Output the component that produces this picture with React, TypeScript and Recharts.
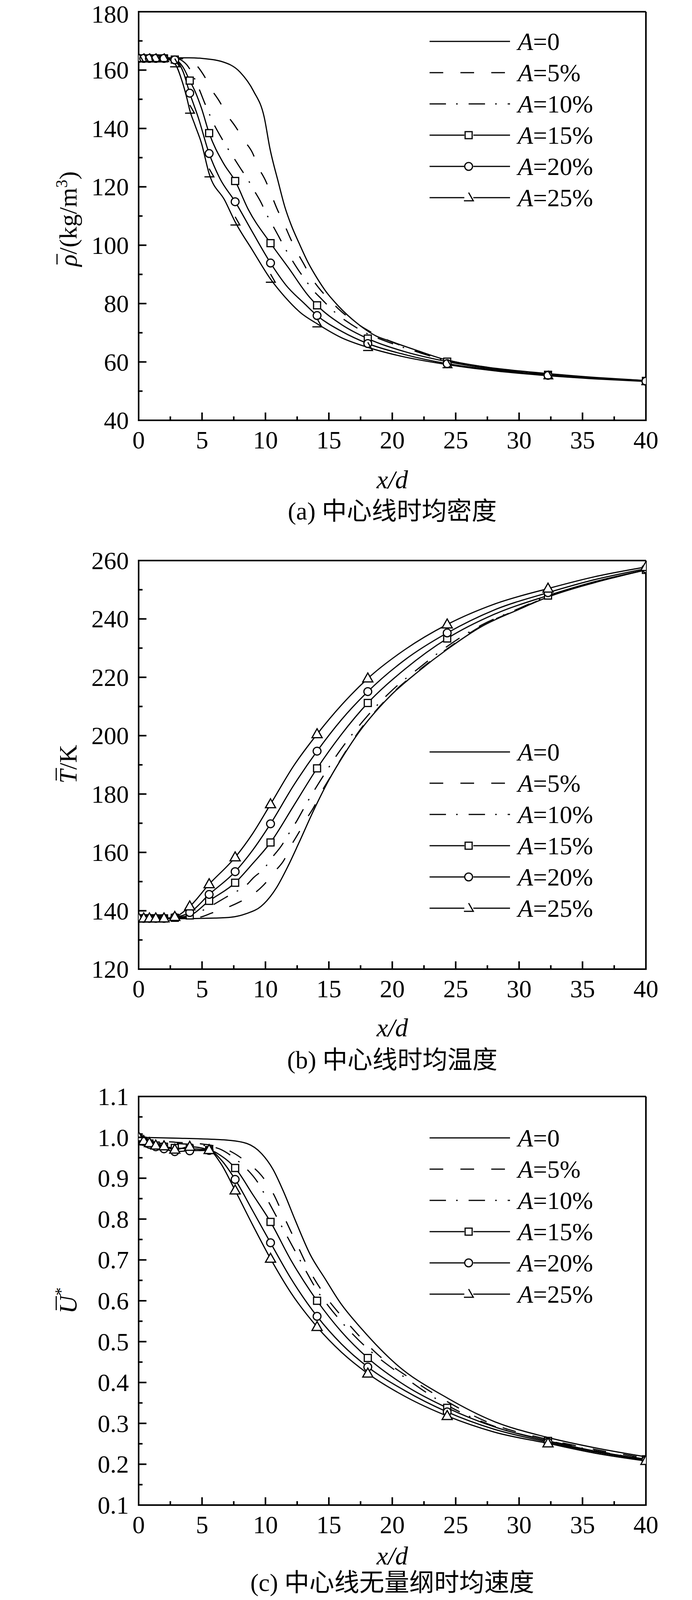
import React from "react";
import { LineChart, Line, XAxis, YAxis, ReferenceLine } from "recharts";

// ---- data ----
// shared sample points where the A=15/20/25% runs carry markers
const markX = [0, 0.4, 0.85, 1.35, 2, 2.85, 4.03, 5.56, 7.61, 10.4, 14.07, 18.07, 24.33, 32.28, 40];
const xTicks = [0, 2.5, 5, 7.5, 10, 12.5, 15, 17.5, 20, 22.5, 25, 27.5, 30, 32.5, 35, 37.5, 40];
const xMajor = [0, 5, 10, 15, 20, 25, 30, 35, 40];
const legendLabels = ["0", "5%", "10%", "15%", "20%", "25%"];

// (a) density
const rhoMajor = [40, 60, 80, 100, 120, 140, 160, 180];
const rhoMinor = [50, 70, 90, 110, 130, 150, 170];
const rho0 = [[0, 164], [2, 164.2], [4, 164.2], [5, 164], [6.5, 163], [8, 159.3], [9.06, 152.8], [9.9, 143.9], [10.35, 133.2], [11.02, 121.5], [11.53, 113.1], [12.04, 106.8], [12.66, 100.6], [13.38, 93.9], [14.1, 88.5], [14.71, 84.5], [15.74, 79.2], [17.18, 73.4], [18.72, 68.9], [19.85, 67.1], [21.9, 64], [24, 61], [27, 58.5], [32.3, 56], [36, 54.7], [40, 53.6]];
const rho5 = [[0, 164], [3, 164], [4, 163.5], [4.44, 162.2], [5.11, 158.4], [5.77, 153.2], [6.34, 149.5], [7, 144.5], [7.61, 140.8], [8.34, 135.8], [8.96, 131.8], [9.47, 126.5], [10, 122.2], [10.5, 116.9], [10.9, 112.6], [11.47, 107.3], [11.9, 103], [12.45, 98], [12.98, 93.9], [13.6, 89], [14.2, 85.4], [15.07, 81.2], [15.75, 78.2], [17, 73.8], [18, 71], [20, 66.8], [22, 63.7], [24.4, 60.6], [28, 57.8], [32.3, 55.9], [36, 54.6], [40, 53.6]];
const rho10 = [[0, 164], [3, 164], [3.5, 163], [3.8, 161.8], [4.75, 153.7], [5.2, 148.8], [5.57, 145], [5.92, 141.6], [6.5, 137], [6.96, 133.6], [7.42, 130.5], [8.14, 125.6], [8.6, 122.6], [9.06, 119.1], [9.68, 114.4], [10.04, 111], [10.48, 107.5], [11.07, 102.8], [11.48, 99.4], [11.93, 96.1], [12.61, 91.4], [13.12, 88.3], [13.63, 85.2], [14.46, 81.4], [15.07, 78.7], [15.75, 76], [16.83, 72.7], [17.59, 70.7], [20, 66.3], [22, 63.4], [24.4, 60.3], [28, 57.6], [32.3, 55.8], [36, 54.5], [40, 53.5]];
const rho15 = [[0, 164], [0.4, 164], [0.85, 164], [1.35, 164], [2, 164], [2.85, 163.6], [3.5, 161], [4.03, 156.4], [4.44, 152.8], [4.95, 147], [5.56, 138.4], [6.7, 128], [7.61, 122], [8.65, 112.2], [10.4, 100.7], [11.84, 92.1], [13.38, 82.7], [14.07, 79.4], [16, 72.8], [18.07, 68], [21, 63.5], [24.33, 60.1], [28, 57.5], [32.28, 55.6], [36, 54.4], [40, 53.5]];
const rho20 = [[0, 164], [0.4, 164], [0.85, 164], [1.35, 164], [2, 164], [2.85, 163.5], [3.5, 159.5], [4.03, 152.1], [4.69, 143.9], [5.56, 131.4], [6.39, 123], [7.61, 114.9], [8.96, 104.6], [10.4, 93.9], [11.62, 86.3], [13.07, 80], [14.07, 75.9], [16, 70.5], [18.07, 66.3], [21, 62.5], [24.33, 59.4], [28, 57.2], [32.28, 55.4], [36, 54.3], [40, 53.4]];
const rho25 = [[0, 164], [0.4, 164], [0.85, 164], [1.35, 164], [2, 164], [2.85, 162.2], [3.41, 156.4], [3.82, 150.1], [4.03, 146.3], [4.44, 141.2], [4.95, 135], [5.56, 124.5], [6.8, 115.3], [7.61, 108], [8.96, 98.4], [10.4, 88.4], [11.53, 82.3], [12.76, 76.9], [14.07, 73.1], [16, 68.3], [18.07, 65], [20.87, 61.8], [24.33, 59.1], [28, 57], [32.28, 55.3], [36, 54.2], [40, 53.3]];

// (b) temperature
const tMajor = [120, 140, 160, 180, 200, 220, 240, 260];
const tMinor = [130, 150, 170, 190, 210, 230, 250];
const t0 = [[0, 137.4], [3, 137.3], [6, 137.5], [7.3, 137.8], [8.47, 139], [9.65, 141.5], [10.84, 147.7], [11.79, 155.4], [12.62, 163.1], [13.8, 174.4], [14.99, 184.7], [16.18, 193.4], [17.36, 201.1], [18.9, 209.3], [20, 214.3], [22, 221.8], [24.4, 229.8], [27, 237.3], [30, 243.3], [32.28, 247.5], [36, 252.5], [40, 256.8]];
const t5 = [[0, 137.4], [3, 137.4], [4.79, 137.8], [5.74, 139.2], [6.93, 141], [8, 143.1], [9, 145.6], [9.83, 148.7], [10.72, 153.4], [11.44, 157.2], [12.02, 162.3], [12.62, 166.7], [13.21, 171.3], [13.8, 175.4], [14.4, 180.6], [14.92, 184.4], [16.18, 193.6], [17.36, 201.4], [18.9, 209.5], [20, 214.5], [22, 222], [24.4, 230], [27, 237.5], [30, 243.4], [32.28, 247.6], [36, 252.5], [40, 256.8]];
const t10 = [[0, 137.4], [3, 137.4], [4, 138], [4.9, 139.8], [5.86, 142], [6.87, 144.6], [7.61, 146.4], [8.35, 148.2], [9.1, 151.5], [9.9, 154.5], [10.48, 158], [11.31, 162.6], [11.71, 165.5], [12.5, 171], [13.27, 177], [14.07, 182.8], [14.87, 188.3], [15.7, 193.8], [16.58, 199], [17.5, 204], [18.07, 206.9], [20, 215.6], [22, 222.8], [24.4, 230.8], [27, 237.8], [30, 243.6], [32.28, 247.8], [36, 252.6], [40, 256.8]];
const t15 = [[0, 137.4], [0.4, 137.4], [0.85, 137.4], [1.35, 137.4], [2, 137.4], [2.85, 137.6], [4.03, 138.4], [5.56, 143.4], [7.61, 149.6], [9, 156.2], [10.4, 163.4], [12.2, 175.8], [14.07, 188.8], [16, 200.5], [18.07, 211.2], [21, 222.8], [24.33, 233.3], [28, 241.5], [32.28, 248], [36, 252.8], [40, 256.8]];
const t20 = [[0, 137.4], [0.4, 137.4], [0.85, 137.4], [1.35, 137.4], [2, 137.4], [2.85, 137.8], [4.03, 139.4], [5.56, 145.6], [7.61, 153.4], [9, 160.8], [10.4, 169.8], [12.2, 182.8], [14.07, 194.7], [16, 205.5], [18.07, 215.1], [21, 226], [24.33, 235.2], [28, 243], [32.28, 249], [36, 253.5], [40, 257.2]];
const t25 = [[0, 137.4], [0.4, 137.4], [0.85, 137.4], [1.35, 137.4], [2, 137.4], [2.85, 137.9], [4.03, 141.5], [5.56, 149.1], [7.61, 158.3], [9, 166.5], [10.4, 176.5], [12.2, 189.5], [14.07, 200.5], [16, 210.5], [18.07, 219.6], [21, 229.5], [24.33, 238.1], [28, 245], [32.28, 250.4], [36, 254.5], [40, 257.8]];

// (c) dimensionless velocity
const uMajor = [0.1, 0.2, 0.3, 0.4, 0.5, 0.6, 0.7, 0.8, 0.9, 1.0, 1.1];
const uMinor = [0.15, 0.25, 0.35, 0.45, 0.55, 0.65, 0.75, 0.85, 0.95, 1.05];
const u0 = [[0, 1.0], [3, 0.998], [6, 0.995], [7.06, 0.993], [8.53, 0.985], [9.7, 0.96], [10.59, 0.922], [11.47, 0.864], [12.35, 0.797], [13.53, 0.713], [14.7, 0.654], [15.88, 0.596], [17.65, 0.529], [20.3, 0.445], [24.4, 0.361], [28, 0.305], [32.06, 0.267], [36, 0.24], [40, 0.218]];
const u5 = [[0, 1.0], [1, 0.993], [2.9, 0.988], [5.2, 0.983], [6.5, 0.975], [7.35, 0.964], [8.53, 0.939], [9.7, 0.906], [10.59, 0.864], [11.47, 0.805], [12.35, 0.747], [13.53, 0.671], [14.7, 0.613], [16.47, 0.546], [18.8, 0.47], [21.76, 0.403], [24.4, 0.352], [27.6, 0.302], [32.06, 0.262], [36, 0.236], [40, 0.215]];
const u10 = [[0, 1.0], [1, 0.99], [2.9, 0.985], [5.2, 0.98], [6.5, 0.97], [7.3, 0.955], [8.24, 0.931], [9.41, 0.889], [10.3, 0.839], [11.18, 0.788], [12.35, 0.721], [13.53, 0.654], [14.07, 0.625], [14.7, 0.598], [16.47, 0.532], [18.24, 0.478], [20.3, 0.428], [24.4, 0.343], [28.5, 0.288], [32.28, 0.258], [36, 0.233], [40, 0.212]];
const u15 = [[0, 1.0], [0.4, 0.99], [0.85, 0.985], [1.35, 0.98], [2, 0.977], [2.85, 0.974], [4.03, 0.972], [5.56, 0.969], [6.5, 0.955], [7.61, 0.925], [9, 0.86], [10.4, 0.793], [12, 0.7], [14.07, 0.6], [16, 0.524], [18.07, 0.46], [21, 0.393], [24.33, 0.338], [28, 0.292], [32.28, 0.257], [36, 0.232], [40, 0.212]];
const u20 = [[0, 1.0], [0.4, 0.99], [0.85, 0.983], [1.35, 0.977], [2, 0.972], [2.85, 0.965], [4.03, 0.967], [5.56, 0.968], [6.5, 0.945], [7.61, 0.897], [9, 0.82], [10.4, 0.742], [12, 0.655], [14.07, 0.562], [16, 0.494], [18.07, 0.438], [21, 0.38], [24.33, 0.328], [28, 0.286], [32.28, 0.254], [36, 0.23], [40, 0.21]];
const u25 = [[0, 1.0], [0.4, 0.991], [0.85, 0.986], [1.35, 0.98], [2, 0.978], [2.85, 0.97], [4.03, 0.977], [5.56, 0.969], [6.5, 0.935], [7.61, 0.87], [9, 0.785], [10.4, 0.703], [12, 0.62], [14.07, 0.536], [16, 0.474], [18.07, 0.422], [21, 0.366], [24.33, 0.318], [28, 0.279], [32.28, 0.251], [36, 0.227], [40, 0.208]];

// ---- layout ----
const FONT = "'Liberation Serif', 'Times New Roman', serif";
const CJK = "'Liberation Serif', 'Noto Sans CJK SC', serif";
const W = 1772;
const H = 1400;
const ML = 355;
const MR = 118;
const MT = 30;
const PH = 1046;
const MB = H - MT - PH;
const PLOT_B = MT + PH;
const CX = (ML + (W - MR)) / 2;
const AXIS = { stroke: "#000", strokeWidth: 4, strokeLinecap: "square" as const };
const DASH5 = "35 44";
const DASH10 = "42 26 4 28";

type Mark = "square" | "circle" | "tri" | "half";

const toRows = (pts: number[][]) => pts.map(([x, y]) => ({ x, y }));

function markShape(kind: Mark, cx: number, cy: number, key?: string) {
  const st = { fill: "#fff", stroke: "#000", strokeWidth: 3 };
  if (kind === "square") return <rect key={key} x={cx - 9} y={cy - 9} width={18} height={18} {...st} />;
  if (kind === "circle") return <circle key={key} cx={cx} cy={cy} r={10} {...st} />;
  if (kind === "tri")
    return <path key={key} d={`M${cx},${cy - 14}L${cx + 13},${cy + 9}L${cx - 13},${cy + 9}Z`} {...st} />;
  return <path key={key} d={`M${cx},${cy - 13}L${cx + 12},${cy + 8}L${cx - 12},${cy + 8}`} {...st} fill="none" />;
}

function Legend({ y0 }: { y0: number }) {
  const x1 = 1100;
  const x2 = 1306;
  const mid = 1200;
  const kinds: (Mark | null)[] = [null, null, null, "square", "circle", "half"];
  return (
    <g>
      {legendLabels.map((lab, i) => {
        const y = y0 + i * 80;
        const k = kinds[i];
        return (
          <g key={lab}>
            {k ? (
              <>
                <line x1={x1} x2={mid - 11} y1={y} y2={y} stroke="#000" strokeWidth={3} />
                <line x1={mid + 12} x2={x2} y1={y} y2={y} stroke="#000" strokeWidth={3} />
                {markShape(k, mid, y)}
              </>
            ) : (
              <line
                x1={x1}
                x2={x2}
                y1={y}
                y2={y}
                stroke="#000"
                strokeWidth={3}
                strokeDasharray={i === 1 ? DASH5 : i === 2 ? DASH10 : undefined}
              />
            )}
            <text x={1326} y={y + 22} fontSize={64} fontFamily={FONT}>
              <tspan fontStyle="italic">A</tspan>={lab}
            </text>
          </g>
        );
      })}
    </g>
  );
}

interface Series {
  pts: number[][];
  dash?: string;
  mark?: Mark;
}

interface PanelProps {
  top: number;
  domain: [number, number];
  yMajor: number[];
  yMinor: number[];
  fmt: (v: number) => string;
  series: Series[];
  legendY: number;
  yLabel: React.ReactNode;
  caption: string;
  xLabelDy: number;
  captionDy: number;
}

function Panel({ top, domain, yMajor, yMinor, fmt, series, legendY, yLabel, caption, xLabelDy, captionDy }: PanelProps) {
  const yTicks = [...yMajor, ...yMinor].sort((a, b) => a - b);

  const xTick = (p: any) => {
    const v = p.payload.value;
    const major = xMajor.includes(v);
    return (
      <g>
        <line x1={p.x} x2={p.x} y1={PLOT_B} y2={PLOT_B - (major ? 20 : 10)} stroke="#000" strokeWidth={4} />
        {major && (
          <text x={p.x} y={PLOT_B + 72} textAnchor="middle" fontSize={64} fontFamily={FONT}>
            {v}
          </text>
        )}
      </g>
    );
  };

  const yTick = (p: any) => {
    const v = p.payload.value;
    const major = yMajor.includes(v);
    // keep the topmost label's box on the page
    const base = Math.max(p.y + 22, 58 - top);
    return (
      <g>
        <line x1={ML} x2={ML + (major ? 20 : 10)} y1={p.y} y2={p.y} stroke="#000" strokeWidth={4} />
        {major && (
          <text x={ML - 25} y={base} textAnchor="end" fontSize={64} fontFamily={FONT}>
            {fmt(v)}
          </text>
        )}
      </g>
    );
  };

  return (
    <div style={{ position: "absolute", left: 0, top, width: W, height: H }}>
      <LineChart width={W} height={H} margin={{ top: MT, right: MR, bottom: MB - 1, left: ML - 1 }}>
        <XAxis
          type="number"
          dataKey="x"
          domain={[0, 40]}
          ticks={xTicks}
          interval={0}
          tick={xTick}
          tickLine={false}
          tickSize={0}
          tickMargin={0}
          height={1}
          axisLine={AXIS}
          allowDataOverflow
        />
        <YAxis
          type="number"
          domain={domain}
          ticks={yTicks}
          interval={0}
          tick={yTick}
          tickLine={false}
          tickSize={0}
          tickMargin={0}
          width={1}
          axisLine={AXIS}
          allowDataOverflow
        />
        <ReferenceLine y={domain[1]} stroke="#000" strokeWidth={4} />
        <ReferenceLine x={40} stroke="#000" strokeWidth={4} />
        {series.map((s, i) => (
          <Line
            key={`c${i}`}
            data={toRows(s.pts)}
            dataKey="y"
            type="monotone"
            stroke="#000"
            strokeWidth={3}
            strokeDasharray={s.dash}
            dot={false}
            activeDot={false}
            isAnimationActive={false}
          />
        ))}
        {series
          .filter((s) => s.mark)
          .map((s, i) => (
            <Line
              key={`m${i}`}
              data={toRows(s.pts.filter(([x]) => markX.includes(x)))}
              dataKey="y"
              stroke="none"
              dot={(p: any) => markShape(s.mark as Mark, p.cx, p.cy, `d${i}-${p.index}`)}
              activeDot={false}
              isAnimationActive={false}
            />
          ))}
      </LineChart>
      <svg
        width={W}
        height={H}
        style={{ position: "absolute", left: 0, top: 0, pointerEvents: "none" }}
      >
        <Legend y0={legendY} />
        <g transform={`translate(196, ${MT + PH / 2}) rotate(-90)`}>{yLabel}</g>
        <text x={CX} y={PLOT_B + xLabelDy} textAnchor="middle" fontSize={66} fontFamily={FONT} fontStyle="italic">
          x/d
        </text>
        <text x={CX} y={PLOT_B + captionDy} textAnchor="middle" fontSize={64} fontFamily={CJK}>
          {caption}
        </text>
      </svg>
    </div>
  );
}

const rhoLabel = (
  <g>
    <text x={-129} y={0} fontSize={64} fontFamily={FONT}>
      <tspan fontStyle="italic">ρ</tspan>/(kg/m
      <tspan dy={-24} fontSize={42}>3</tspan>
      <tspan dy={24}>)</tspan>
    </text>
    <line x1={-124} x2={-97} y1={-50} y2={-50} stroke="#000" strokeWidth={3} />
  </g>
);

const tLabel = (
  <g>
    <text x={-48} y={0} fontSize={64} fontFamily={FONT}>
      <tspan fontStyle="italic">T</tspan>/K
    </text>
    <line x1={-40} x2={-8} y1={-52} y2={-52} stroke="#000" strokeWidth={3} />
  </g>
);

const uLabel = (
  <g>
    <text x={-33} y={0} fontSize={64} fontFamily={FONT}>
      <tspan fontStyle="italic">U</tspan>
      <tspan dy={-26} fontSize={42}>*</tspan>
    </text>
    <line x1={-24} x2={12} y1={-52} y2={-52} stroke="#000" strokeWidth={3} />
  </g>
);

export default function App() {
  return (
    <div style={{ position: "absolute", left: 0, top: 0, width: W, height: 4180, background: "#fff" }}>
      <style>{"svg { overflow: visible; }"}</style>
      <Panel
        top={0}
        domain={[40, 180]}
        yMajor={rhoMajor}
        yMinor={rhoMinor}
        fmt={(v) => String(v)}
        series={[
          { pts: rho0 },
          { pts: rho5, dash: DASH5 },
          { pts: rho10, dash: DASH10 },
          { pts: rho15, mark: "square" },
          { pts: rho20, mark: "circle" },
          { pts: rho25, mark: "half" },
        ]}
        legendY={106}
        yLabel={rhoLabel}
        caption="(a) 中心线时均密度"
        xLabelDy={174}
        captionDy={254}
      />
      <Panel
        top={1405}
        domain={[120, 260]}
        yMajor={tMajor}
        yMinor={tMinor}
        fmt={(v) => String(v)}
        series={[
          { pts: t0 },
          { pts: t5, dash: DASH5 },
          { pts: t10, dash: DASH10 },
          { pts: t15, mark: "square" },
          { pts: t20, mark: "circle" },
          { pts: t25, mark: "tri" },
        ]}
        legendY={520}
        yLabel={tLabel}
        caption="(b) 中心线时均温度"
        xLabelDy={172}
        captionDy={254}
      />
      <Panel
        top={2777}
        domain={[0.1, 1.1]}
        yMajor={uMajor}
        yMinor={uMinor}
        fmt={(v) => v.toFixed(1)}
        series={[
          { pts: u0 },
          { pts: u5, dash: DASH5 },
          { pts: u10, dash: DASH10 },
          { pts: u15, mark: "square" },
          { pts: u20, mark: "circle" },
          { pts: u25, mark: "tri" },
        ]}
        legendY={136}
        yLabel={uLabel}
        caption="(c) 中心线无量纲时均速度"
        xLabelDy={152}
        captionDy={220}
      />
    </div>
  );
}
